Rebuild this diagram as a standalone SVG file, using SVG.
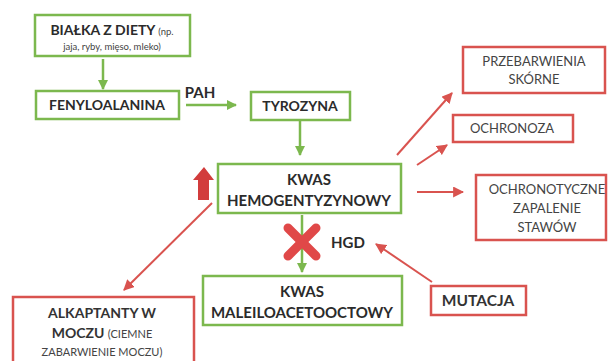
<svg xmlns="http://www.w3.org/2000/svg" width="608" height="361" viewBox="0 0 608 361">
<defs>
<style>
.g{fill:#fff;stroke:#7cb84e;stroke-width:2.5}
.r{fill:#fff;stroke:#d9534f;stroke-width:2.5}
.t{font-family:Lato,"Open Sans",sans-serif;font-weight:bold;font-size:14px;fill:#2b2b2b;text-anchor:middle}
.s{font-family:Lato,"Open Sans",sans-serif;font-size:13px;fill:#444;text-anchor:middle}
.sm{font-size:9.5px;font-weight:normal;fill:#444}
.ga{stroke:#7cb84e;stroke-width:2.5;fill:none;marker-end:url(#ag)}
.ra{stroke:#d9534f;stroke-width:2;fill:none;marker-end:url(#ar)}
</style>
<marker id="ag" viewBox="0 0 10 10" refX="9" refY="5" markerWidth="4" markerHeight="4" orient="auto" markerUnits="strokeWidth"><path d="M0,0 L10,5 L0,10 z" fill="#7cb84e"/></marker>
<marker id="ar" viewBox="0 0 10 10" refX="9" refY="5" markerWidth="5.5" markerHeight="5.5" orient="auto" markerUnits="strokeWidth"><path d="M0,0 L10,5 L0,10 z" fill="#d9534f"/></marker>
</defs>
<rect width="608" height="361" fill="#fff"/>
<g id="connectors">
<line class="ga" x1="103" y1="59" x2="103" y2="89"/>
<line class="ga" x1="186" y1="105" x2="236" y2="105"/>
<line class="ga" x1="300" y1="121" x2="300" y2="155"/>
<line class="ga" x1="302" y1="215" x2="302" y2="272"/>
<line class="ra" x1="397" y1="155" x2="452" y2="93"/>
<line class="ra" x1="417" y1="165" x2="447" y2="145"/>
<line class="ra" x1="417" y1="192" x2="463" y2="192"/>
<line class="ra" x1="212" y1="203" x2="124" y2="290"/>
<line class="ra" x1="432" y1="282" x2="376" y2="244"/>
</g>
<g id="n-bialka">
<rect class="g" x="35" y="15" width="155" height="41"/>
<text class="t" x="112" y="35">BIAŁKA Z DIETY <tspan class="sm">(np.</tspan></text>
<text class="t sm" x="112" y="50">jaja, ryby, mięso, mleko)</text>
</g>
<g id="n-fenylo">
<rect class="g" x="36" y="91" width="143" height="28"/>
<text class="t" x="107" y="110">FENYLOALANINA</text>
</g>
<text class="t" x="200" y="98" style="font-size:15px">PAH</text>
<g id="n-tyrozyna">
<rect class="g" x="251" y="92" width="99" height="28"/>
<text class="t" x="300" y="111">TYROZYNA</text>
</g>
<g id="n-hemo">
<rect class="g" x="218" y="164" width="183" height="49"/>
<text class="t" x="309" y="185" style="font-size:15px">KWAS</text>
<text class="t" x="309" y="206" style="font-size:15px">HEMOGENTYZYNOWY</text>
</g>
<g id="up-arrow">
<path d="M204,167 L214,180 L209,180 L209,200 L198,200 L198,180 L193,180 z" fill="#d23c3c"/>
</g>
<g id="x-mark">
<path d="M302,242 m-14,-14 l28,28 M302,242 m14,-14 l-28,28" stroke="#e04848" stroke-width="9" stroke-linecap="round"/>
</g>
<text class="t" x="348" y="248" style="font-size:15px">HGD</text>
<g id="n-malei">
<rect class="g" x="203" y="276" width="199" height="49"/>
<text class="t" x="302" y="297" style="font-size:15px">KWAS</text>
<text class="t" x="302" y="318" style="font-size:15px">MALEILOACETOOCTOWY</text>
</g>
<g id="n-przeb">
<rect class="r" x="463" y="47" width="142" height="46"/>
<text class="s" x="534" y="66">PRZEBARWIENIA</text>
<text class="s" x="534" y="84">SKÓRNE</text>
</g>
<g id="n-ochronoza">
<rect class="r" x="453" y="115" width="120" height="27"/>
<text class="s" x="512" y="133">OCHRONOZA</text>
</g>
<g id="n-ochronotyczne">
<rect class="r" x="476" y="175" width="130" height="65"/>
<text class="s" x="547" y="194">OCHRONOTYCZNE</text>
<text class="s" x="547" y="213">ZAPALENIE</text>
<text class="s" x="547" y="232">STAWÓW</text>
</g>
<g id="n-mutacja">
<rect class="r" x="431" y="286" width="95" height="29"/>
<text class="t" x="478" y="306" style="fill:#333;font-size:15.5px">MUTACJA</text>
</g>
<g id="n-alkapt">
<rect class="r" x="13" y="297" width="181" height="70"/>
<text class="t" x="102" y="318" style="fill:#333">ALKAPTANTY W</text>
<text class="t" x="102" y="338" style="fill:#333">MOCZU <tspan class="sm" style="font-size:11px">(CIEMNE</tspan></text>
<text class="s" x="102" y="356" style="font-size:11px">ZABARWIENIE MOCZU)</text>
</g>
</svg>
